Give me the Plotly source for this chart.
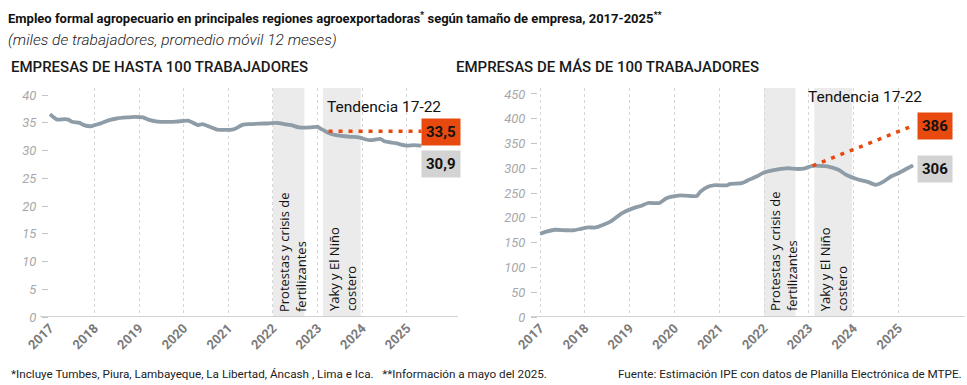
import plotly.graph_objects as go

# ---------------- data ----------------
small_dates = ["2017-01-01","2017-02-01","2017-03-01","2017-05-01","2017-06-01","2017-07-01","2017-09-01",
               "2017-10-01","2017-12-01","2018-01-01","2018-03-01","2018-05-01","2018-07-01","2018-10-01",
               "2018-12-01","2019-02-01","2019-04-01","2019-06-01","2019-09-01","2019-11-01","2020-02-01",
               "2020-03-01","2020-05-01","2020-06-01","2020-08-01","2020-10-01","2021-02-01","2021-03-01",
               "2021-05-01","2021-07-01","2021-11-01","2022-02-01","2022-04-01","2022-06-01","2022-08-01",
               "2022-11-01","2023-01-01","2023-02-01","2023-04-01","2023-06-01","2023-10-01","2023-12-01",
               "2024-03-01","2024-06-01","2024-07-01","2024-10-01","2025-01-01","2025-03-01","2025-05-01"]
small_values = [36.6,36.0,35.6,35.7,35.6,35.2,35.0,34.65,34.4,34.6,35.0,35.5,35.8,36.0,36.1,36.0,35.5,35.25,
                35.2,35.25,35.4,35.2,34.6,34.8,34.3,33.8,33.8,34.0,34.7,34.8,34.9,35.0,34.8,34.6,34.2,34.2,
                34.3,33.9,33.2,32.8,32.5,32.4,31.9,32.1,31.7,31.35,30.9,31.0,30.9]

large_dates = ["2017-01-01","2017-03-01","2017-05-01","2017-08-01","2017-10-01","2017-12-01","2018-02-01",
               "2018-04-01","2018-06-01","2018-08-01","2018-11-01","2019-02-01","2019-04-01","2019-06-01",
               "2019-09-01","2019-11-01","2020-02-01","2020-04-01","2020-07-01","2020-08-01","2020-10-01",
               "2020-12-01","2021-03-01","2021-04-01","2021-07-01","2021-09-01","2021-11-01","2022-01-01",
               "2022-04-01","2022-07-01","2022-08-01","2022-10-01","2022-12-01","2023-02-01","2023-04-01",
               "2023-06-01","2023-09-01","2023-11-01","2024-02-01","2024-05-01","2024-07-01","2024-09-01",
               "2024-11-01","2025-01-01","2025-03-01","2025-05-01"]
large_values = [168,172.6,176,175,175,178,180.6,180.6,186,193,209.6,219.7,224,230,230,240,245,245,244,253,263,
                266,265.5,268.7,270,276.8,283.5,291.5,297,300,300,298.6,300,305,305,304,297,287,278,272,266.7,
                273,283.5,290,298,306]

small_trend_dates = ["2023-04-01", "2025-05-01"]
small_trend_values = [33.5, 33.5]
large_trend_dates = ["2023-02-01", "2025-05-01"]
large_trend_values = [305, 386]

small_label_trend, small_label_actual = "33,5", "30,9"
large_label_trend, large_label_actual = "386", "306"

bands = [("2022-01-01", "2022-09-15", "Protestas y crisis de<br>fertilizantes"),
         ("2023-02-15", "2023-12-20", "Yaky y El Niño<br>costero")]

year_ticks = ["2017-01-01", "2018-01-01", "2019-01-01", "2020-01-01", "2021-01-01",
              "2022-01-01", "2023-01-01", "2024-01-01", "2025-01-01"]
year_labels = ["2017", "2018", "2019", "2020", "2021", "2022", "2023", "2024", "2025"]
small_yticks = [0, 5, 10, 15, 20, 25, 30, 35, 40]
large_yticks = [0, 50, 100, 150, 200, 250, 300, 350, 400, 450]

# ---------------- style ----------------
W, H = 967, 385
LINE = "#8d9ca6"
ORANGE = "#e8490f"
GRAYBOX = "#d3d3d3"
FONT = "Roboto"

def px_x(p):
    return p / W

def px_y(p):
    return 1 - p / H

fig = go.Figure()

fig.add_trace(go.Scatter(x=small_dates, y=small_values, mode="lines",
                         line=dict(color=LINE, width=3.8, shape="spline", smoothing=0.6),
                         xaxis="x", yaxis="y", showlegend=False, hoverinfo="skip"))
fig.add_trace(go.Scatter(x=small_trend_dates, y=small_trend_values, mode="lines",
                         line=dict(color=ORANGE, width=3.5, dash="4px,6px"),
                         xaxis="x", yaxis="y", showlegend=False, hoverinfo="skip"))
fig.add_trace(go.Scatter(x=large_dates, y=large_values, mode="lines",
                         line=dict(color=LINE, width=3.8, shape="spline", smoothing=0.6),
                         xaxis="x2", yaxis="y2", showlegend=False, hoverinfo="skip"))
fig.add_trace(go.Scatter(x=large_trend_dates, y=large_trend_values, mode="lines",
                         line=dict(color=ORANGE, width=3.5, dash="4px,6px"),
                         xaxis="x2", yaxis="y2", showlegend=False, hoverinfo="skip"))

xcommon = dict(type="date", tickmode="array", tickvals=year_ticks, ticktext=year_labels, tickangle=-45,
               showgrid=True, gridcolor="#d6d6d6", griddash="dot", gridwidth=1, automargin=False,
               ticks="", showline=False, zeroline=False,
               tickfont=dict(family=FONT, size=13, color="#7a7a7a", weight="bold"))
ycommon = dict(showgrid=False, zeroline=False, showline=False, ticks="outside", ticklen=6,
               tickcolor="#c4c4c4", tickwidth=1, ticklabelstandoff=3, automargin=False,
               tickfont=dict(family=FONT, size=13, color="#a8a8a8", style="italic"))

fig.update_layout(
    width=W, height=H, margin=dict(l=0, r=0, t=0, b=0, autoexpand=False),
    paper_bgcolor="white", plot_bgcolor="white",
    xaxis=dict(xcommon, domain=[px_x(49), px_x(458)], range=["2016-12-24", "2026-02-24"], anchor="y"),
    yaxis=dict(ycommon, domain=[px_y(317), px_y(88)], range=[0, 41.3], tickvals=small_yticks, anchor="x"),
    xaxis2=dict(xcommon, domain=[px_x(538), px_x(965)], range=["2016-12-15", "2026-06-28"], anchor="y2"),
    yaxis2=dict(ycommon, domain=[px_y(317), px_y(88)], range=[0, 462], tickvals=large_yticks, anchor="x2"),
)

shapes = []
annotations = []
for xa, ya in (("x", "y"), ("x2", "y2")):
    for x0, x1, txt in bands:
        shapes.append(dict(type="rect", xref=xa, yref=ya + " domain", x0=x0, x1=x1, y0=0, y1=1,
                           fillcolor="#ebebeb", line_width=0, layer="below"))
        annotations.append(dict(xref=xa, yref=ya + " domain", x=x0, y=0.015, text=txt, textangle=-90,
                                showarrow=False, xanchor="left", yanchor="bottom", align="left",
                                xshift=0, font=dict(family="Open Sans", size=13, color="#111")))
for ya, x0p, x1p in (("y", 40, 458), ("y2", 531, 965)):
    shapes.append(dict(type="line", xref="paper", yref=ya, x0=px_x(x0p), x1=px_x(x1p), y0=0, y1=0,
                       line=dict(color="#c4c4c4", width=1.5)))
fig.update_layout(shapes=shapes)

# end labels
annotations += [
    dict(xref="x", yref="y", x=small_trend_dates[-1], y=small_trend_values[-1], text="<b>" + small_label_trend + "</b>",
         showarrow=False, xanchor="left", yanchor="middle", xshift=0, yshift=-1, bgcolor=ORANGE, borderpad=4,
         font=dict(family=FONT, size=15, color="#111")),
    dict(xref="x", yref="y", x=small_dates[-1], y=small_values[-1], text="<b>" + small_label_actual + "</b>",
         showarrow=False, xanchor="left", yanchor="middle", xshift=0, yshift=-18, bgcolor=GRAYBOX, borderpad=4,
         font=dict(family=FONT, size=15, color="#111")),
    dict(xref="x2", yref="y2", x=large_trend_dates[-1], y=large_trend_values[-1], text="<b>" + large_label_trend + "</b>",
         showarrow=False, xanchor="left", yanchor="middle", xshift=4, yshift=0, bgcolor=ORANGE, borderpad=4,
         font=dict(family=FONT, size=15, color="#111")),
    dict(xref="x2", yref="y2", x=large_dates[-1], y=large_values[-1], text="<b>" + large_label_actual + "</b>",
         showarrow=False, xanchor="left", yanchor="middle", xshift=4, yshift=-4, bgcolor=GRAYBOX, borderpad=4,
         font=dict(family=FONT, size=15, color="#111")),
    dict(xref="paper", yref="paper", x=px_x(325), y=px_y(107), text="Tendencia 17-22", showarrow=False,
         xanchor="left", yanchor="middle", font=dict(family=FONT, size=15.5, color="#111")),
    dict(xref="paper", yref="paper", x=px_x(806), y=px_y(97), text="Tendencia 17-22", showarrow=False,
         xanchor="left", yanchor="middle", font=dict(family=FONT, size=15.5, color="#111")),
]

# titles & notes
annotations += [
    dict(xref="paper", yref="paper", x=px_x(6), y=px_y(18),
         text="<b>Empleo formal agropecuario en principales regiones agroexportadoras<sup>*</sup> según tamaño de empresa, 2017-2025<sup>**</sup></b>",
         showarrow=False, xanchor="left", yanchor="middle",
         font=dict(family="Roboto", size=13, color="#111")),
    dict(xref="paper", yref="paper", x=px_x(6), y=px_y(40),
         text="<i>(miles de trabajadores, promedio móvil 12 meses)</i>", showarrow=False,
         xanchor="left", yanchor="middle", font=dict(family=FONT, size=15.5, color="#222", weight=300)),
    dict(xref="paper", yref="paper", x=px_x(9), y=px_y(67), text="EMPRESAS DE HASTA 100 TRABAJADORES",
         showarrow=False, xanchor="left", yanchor="middle", font=dict(family=FONT, size=15, color="#1a1a1a", weight=500)),
    dict(xref="paper", yref="paper", x=px_x(454), y=px_y(67), text="EMPRESAS DE MÁS DE 100 TRABAJADORES",
         showarrow=False, xanchor="left", yanchor="middle", font=dict(family=FONT, size=15, color="#1a1a1a", weight=500)),
    dict(xref="paper", yref="paper", x=px_x(9), y=px_y(374),
         text="*Incluye Tumbes, Piura, Lambayeque, La Libertad, Áncash , Lima e Ica.   **Información a mayo del 2025.",
         showarrow=False, xanchor="left", yanchor="middle", font=dict(family=FONT, size=11.7, color="#222")),
    dict(xref="paper", yref="paper", x=px_x(964), y=px_y(374),
         text="Fuente: Estimación IPE con datos de Planilla Electrónica de MTPE.",
         showarrow=False, xanchor="right", yanchor="middle", font=dict(family=FONT, size=11.7, color="#222")),
]

fig.update_layout(annotations=annotations)
fig.write_html("out.html", config={"displayModeBar": False},
               post_script="document.body.style.margin='0';document.body.style.padding='0';")
